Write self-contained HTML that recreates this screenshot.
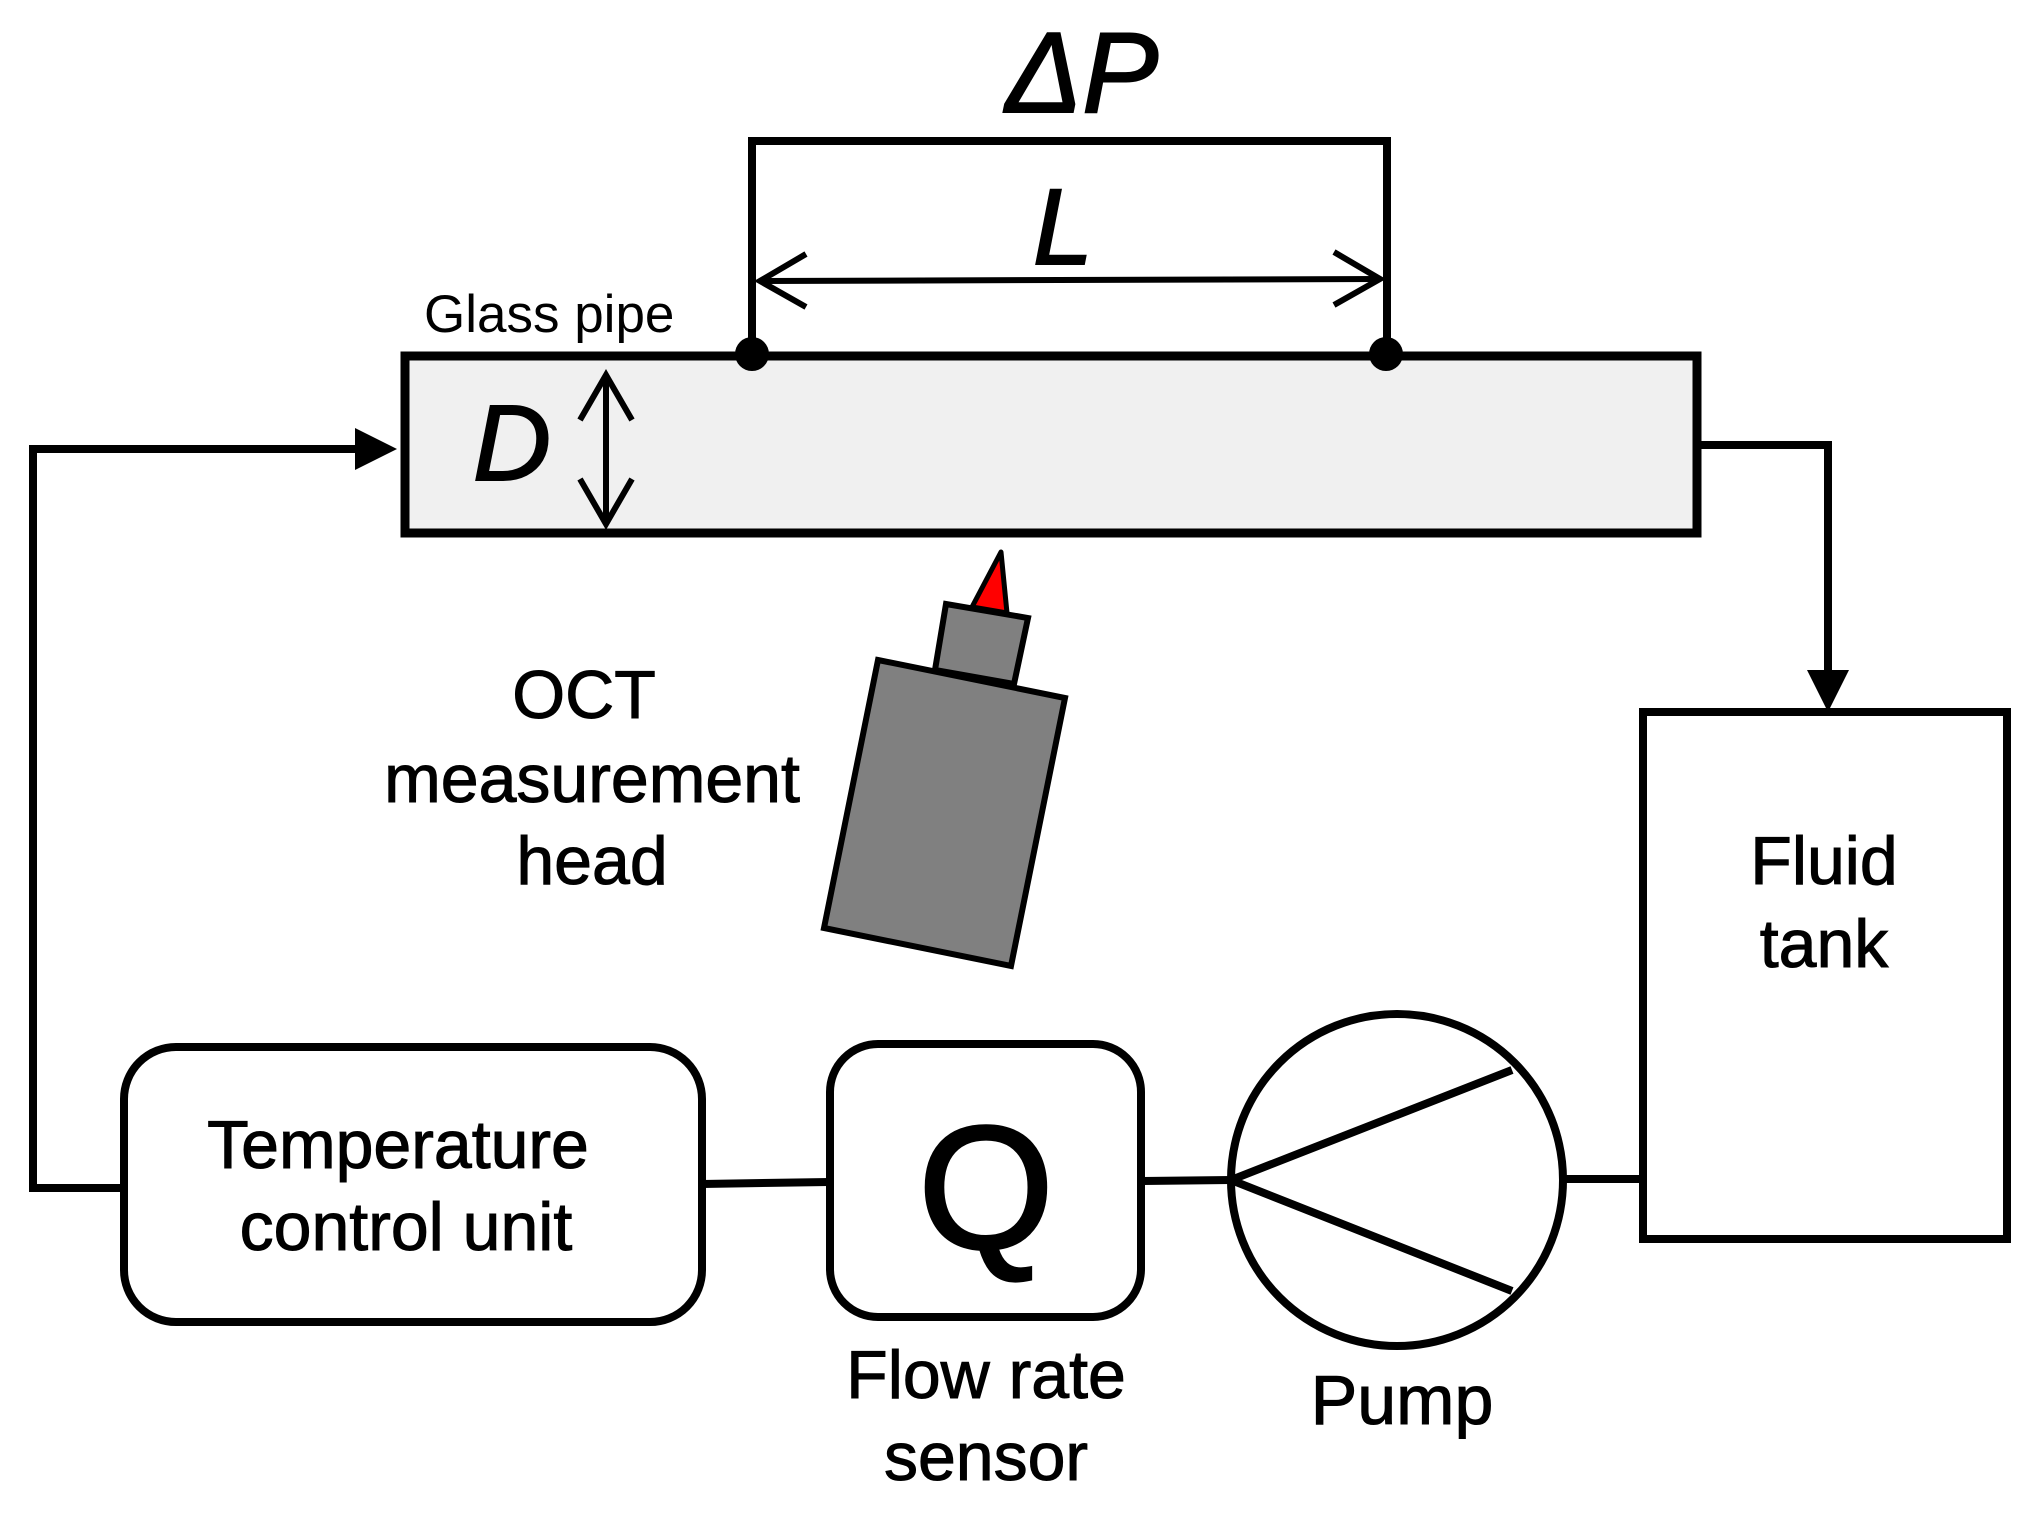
<!DOCTYPE html>
<html><head><meta charset="utf-8"><style>html,body{margin:0;padding:0;background:#fff}svg{display:block}</style></head>
<body>
<svg width="2037" height="1517" viewBox="0 0 2037 1517" xmlns="http://www.w3.org/2000/svg" font-family="Liberation Sans, Arial, sans-serif">
<rect width="2037" height="1517" fill="#fff"/>
<!-- pipe -->
<rect x="405" y="356" width="1292" height="177" fill="#f0f0f0" stroke="#000" stroke-width="9"/>
<!-- delta P bracket -->
<polyline points="752,355 752,141 1387,141 1387,355" fill="none" stroke="#000" stroke-width="8"/>
<circle cx="752" cy="354" r="17" fill="#000"/>
<circle cx="1386" cy="354" r="17" fill="#000"/>
<!-- L arrow -->
<line x1="760" y1="281" x2="1380" y2="279" stroke="#000" stroke-width="6"/>
<polyline points="806,254 760,281 806,307" fill="none" stroke="#000" stroke-width="6"/>
<polyline points="1334,252 1380,279 1334,305" fill="none" stroke="#000" stroke-width="6"/>
<text x="1063" y="264" font-size="108" font-style="italic" text-anchor="middle" stroke="#000" stroke-width="2">L</text>
<text x="1082" y="112" font-size="114" font-style="italic" text-anchor="middle" stroke="#000" stroke-width="2">ΔP</text>
<text x="424" y="332" font-size="53">Glass pipe</text>
<!-- D -->
<text x="512" y="480" font-size="108" font-style="italic" text-anchor="middle" stroke="#000" stroke-width="2">D</text>
<line x1="606" y1="375" x2="606" y2="524" stroke="#000" stroke-width="6"/>
<polyline points="580,420 606,375 632,420" fill="none" stroke="#000" stroke-width="6"/>
<polyline points="580,479 606,524 632,479" fill="none" stroke="#000" stroke-width="6"/>
<!-- left loop -->
<polyline points="124,1188 33,1188 33,449 360,449" fill="none" stroke="#000" stroke-width="8"/>
<polygon points="355,428 397,449 355,470" fill="#000"/>
<!-- right connector -->
<polyline points="1701,445 1828,445 1828,680" fill="none" stroke="#000" stroke-width="8"/>
<polygon points="1807,670 1849,670 1828,712" fill="#000"/>
<!-- fluid tank -->
<rect x="1643" y="712" width="364" height="527" fill="#fff" stroke="#000" stroke-width="8"/>
<text x="1824" y="884" font-size="68" text-anchor="middle" stroke="#000" stroke-width="1">Fluid</text>
<text x="1824" y="967" font-size="68" text-anchor="middle" stroke="#000" stroke-width="1">tank</text>
<!-- temperature unit -->
<rect x="124" y="1047" width="578" height="275" rx="52" fill="#fff" stroke="#000" stroke-width="8"/>
<text x="398" y="1168" font-size="68" text-anchor="middle" stroke="#000" stroke-width="1">Temperature</text>
<text x="406" y="1250" font-size="68" text-anchor="middle" stroke="#000" stroke-width="1">control unit</text>
<line x1="702" y1="1184" x2="829" y2="1182" stroke="#000" stroke-width="8"/>
<!-- Q -->
<rect x="830" y="1044" width="311" height="273" rx="48" fill="#fff" stroke="#000" stroke-width="8"/>
<text x="986" y="1248" font-size="175" text-anchor="middle" stroke="#000" stroke-width="3">Q</text>
<text x="986" y="1398" font-size="68" text-anchor="middle" stroke="#000" stroke-width="1">Flow rate</text>
<text x="986" y="1480" font-size="68" text-anchor="middle" stroke="#000" stroke-width="1">sensor</text>
<line x1="1141" y1="1181" x2="1231" y2="1180" stroke="#000" stroke-width="8"/>
<!-- pump -->
<circle cx="1397" cy="1180" r="166" fill="#fff" stroke="#000" stroke-width="8"/>
<polyline points="1512,1070 1231,1180 1512,1291" fill="none" stroke="#000" stroke-width="8"/>
<text x="1402" y="1424" font-size="70" text-anchor="middle" stroke="#000" stroke-width="1">Pump</text>
<line x1="1563" y1="1179" x2="1643" y2="1179" stroke="#000" stroke-width="8"/>
<!-- OCT head -->
<polygon points="878,660 1065,698 1011,966 824,928" fill="#808080" stroke="#000" stroke-width="6"/>
<polygon points="946,604 1028,618 1014,684 935,670" fill="#808080" stroke="#000" stroke-width="6"/>
<polygon points="972,607 1007,613 1001,552" fill="#f00" stroke="#000" stroke-width="5" stroke-linejoin="round"/>
<text x="584" y="718" font-size="68" text-anchor="middle" stroke="#000" stroke-width="1">OCT</text>
<text x="592" y="802" font-size="68" text-anchor="middle" stroke="#000" stroke-width="1">measurement</text>
<text x="592" y="884" font-size="68" text-anchor="middle" stroke="#000" stroke-width="1">head</text>
</svg>
</body></html>
